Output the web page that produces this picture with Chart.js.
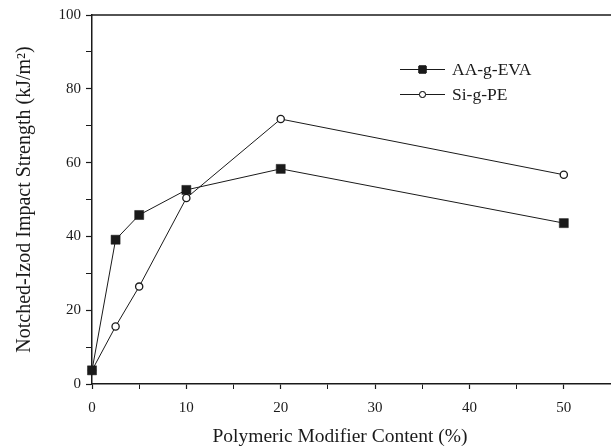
<!DOCTYPE html>
<html>
<head>
<meta charset="utf-8">
<script src="https://cdn.jsdelivr.net/npm/chart.js@4.4.1/dist/chart.umd.min.js"></script>
<style>
  html, body { margin: 0; padding: 0; background: #fff; }
  #wrap { width: 611px; height: 448px; }
</style>
</head>
<body>
<div id="wrap"><canvas id="izodChart" width="611" height="448"></canvas></div>
<script>
// данные
const contentPct = [0, 2.5, 5, 10, 20, 50];
const aaGEva = [3.7, 39.1, 45.8, 52.6, 58.3, 43.6];
const siGPe = [3.7, 15.6, 26.4, 50.4, 71.8, 56.7];
const seriesNames = ['AA-g-EVA', 'Si-g-PE'];
const xMajorTicks = [0, 10, 20, 30, 40, 50];
const yMajorTicks = [0, 20, 40, 60, 80, 100];
const xTitle = 'Polymeric Modifier Content (%)';

const serif = '"Liberation Serif", "DejaVu Serif", serif';
const ink = '#1a1a1a';

// верхняя рамка, подпись оси X и легенда
const framePlugin = {
    id: 'frame',
    afterDraw(chart) {
        const ctx = chart.ctx;
        const area = chart.chartArea;
        ctx.save();
        ctx.strokeStyle = ink;
        ctx.lineWidth = 1.5;
        ctx.beginPath();
        ctx.moveTo(area.left, area.top);
        ctx.lineTo(area.right, area.top);
        ctx.stroke();

        // подпись оси X (в оригинале смещена влево от центра)
        ctx.fillStyle = ink;
        ctx.font = '19.5px ' + serif;
        ctx.textAlign = 'center';
        ctx.textBaseline = 'middle';
        ctx.fillText(xTitle, 340, 437);

        // легенда
        chart.data.datasets.forEach((ds, i) => {
            const y = 69.5 + i * 25;
            const x0 = 400, x1 = 445;
            ctx.strokeStyle = ink;
            ctx.lineWidth = 1;
            ctx.beginPath();
            ctx.moveTo(x0, y);
            ctx.lineTo(x1, y);
            ctx.stroke();
            Chart.helpers.drawPoint(ctx, {
                pointStyle: ds.pointStyle,
                radius: ds.pointStyle === 'rect' ? 5 : 3,
                borderWidth: ds.pointBorderWidth
            }, (x0 + x1) / 2, y);
            ctx.fillStyle = ds.pointBackgroundColor;
            ctx.fill();
            ctx.stroke();
            ctx.fillStyle = ink;
            ctx.font = '17.5px ' + serif;
            ctx.textBaseline = 'middle';
            ctx.textAlign = 'left';
            ctx.fillText(ds.label, 452, y + 1);
        });
        ctx.restore();
    }
};

const ctx = document.getElementById('izodChart').getContext('2d');
new Chart(ctx, {
    type: 'line',
    data: {
        datasets: [
            {
                label: seriesNames[0],
                data: contentPct.map((x, i) => ({ x: x, y: aaGEva[i] })),
                borderColor: ink,
                borderWidth: 1,
                pointStyle: 'rect',
                pointRadius: 6.4,
                pointBackgroundColor: ink,
                pointBorderColor: ink,
                pointBorderWidth: 0.5,
                tension: 0,
                clip: false
            },
            {
                label: seriesNames[1],
                data: contentPct.map((x, i) => ({ x: x, y: siGPe[i] })),
                borderColor: ink,
                borderWidth: 1,
                pointStyle: 'circle',
                pointRadius: 3.6,
                pointBackgroundColor: '#fff',
                pointBorderColor: ink,
                pointBorderWidth: 1.3,
                tension: 0,
                clip: false
            }
        ]
    },
    options: {
        responsive: false,
        animation: false,
        layout: { autoPadding: false, padding: { top: 15, right: 0, left: 0, bottom: 0 } },
        plugins: {
            legend: { display: false },
            tooltip: { enabled: false }
        },
        scales: {
            x: {
                type: 'linear',
                min: 0,
                max: 55,
                afterFit(scale) {
                    scale.height = 64;
                    scale.paddingLeft = 0;
                    scale.paddingRight = 0;
                },
                afterBuildTicks(scale) {
                    const t = [];
                    for (let v = 0; v <= 55; v += 5) t.push({ value: v });
                    scale.ticks = t;
                },
                ticks: {
                    autoSkip: false,
                    maxRotation: 0,
                    padding: 10,
                    color: ink,
                    font: { family: serif, size: 15 },
                    callback: v => xMajorTicks.includes(v) ? String(v) : ''
                },
                grid: {
                    drawOnChartArea: false,
                    drawTicks: true,
                    tickLength: 5,
                    tickColor: ink,
                    tickWidth: c => xMajorTicks.includes(c.tick.value) ? 1.2 : 1
                },
                border: { color: ink, width: 1.5 },
                title: { display: false }
            },
            y: {
                type: 'linear',
                min: 0,
                max: 100,
                afterFit(scale) { scale.width = 92; },
                afterBuildTicks(scale) {
                    const t = [];
                    for (let v = 0; v <= 100; v += 10) t.push({ value: v });
                    scale.ticks = t;
                },
                ticks: {
                    autoSkip: false,
                    padding: 5,
                    color: ink,
                    font: { family: serif, size: 15 },
                    callback: v => yMajorTicks.includes(v) ? String(v) : ''
                },
                grid: {
                    drawOnChartArea: false,
                    drawTicks: true,
                    tickLength: 6,
                    tickColor: ink,
                    tickWidth: c => yMajorTicks.includes(c.tick.value) ? 1.2 : 1
                },
                border: { color: ink, width: 1.5 },
                title: {
                    display: true,
                    text: 'Notched-Izod Impact Strength (kJ/m²)',
                    color: ink,
                    font: { family: serif, size: 20 },
                    padding: { top: 13, bottom: 0 }
                }
            }
        }
    },
    plugins: [framePlugin]
});
</script>
</body>
</html>
